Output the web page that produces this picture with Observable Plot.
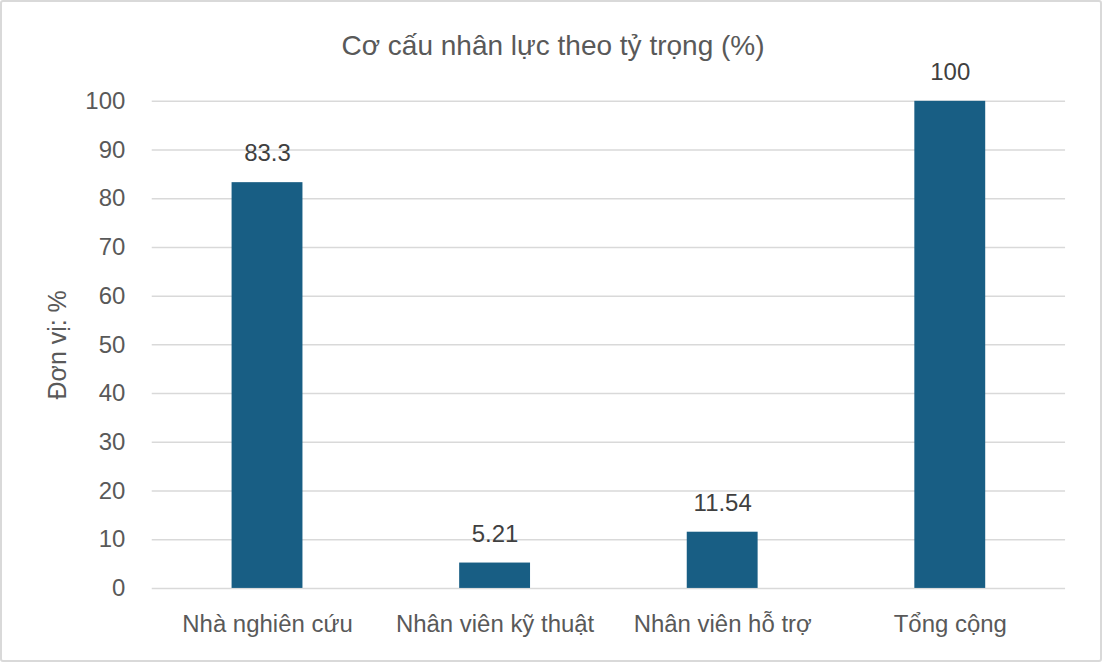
<!DOCTYPE html>
<html>
<head>
<meta charset="utf-8">
<script src="https://cdn.jsdelivr.net/npm/d3@7"></script>
<script src="https://cdn.jsdelivr.net/npm/@observablehq/plot@0.6"></script>
<style>
  html, body { margin: 0; padding: 0; background: #fff; }
  #wrap { position: relative; width: 1102px; height: 662px; box-sizing: border-box; border: 2px solid #d9d9d9; border-radius: 3px; overflow: hidden; font-family: "Liberation Sans", Arial, sans-serif; }
  #title { position: absolute; left: 0; width: 1102px; top: 29px; text-align: center; font-size: 28px; color: #595959; line-height: 30px; }
  #chart { position: absolute; left: -2px; top: -2px; }
</style>
</head>
<body>
<div id="wrap">
  <div id="title">Cơ cấu nhân lực theo tỷ trọng (%)</div>
  <div id="chart"></div>
</div>
<script>
const categories = ["Nhà nghiên cứu", "Nhân viên kỹ thuật", "Nhân viên hỗ trợ", "Tổng cộng"];
const values = [83.3, 5.21, 11.54, 100];
const valueLabels = ["83.3", "5.21", "11.54", "100"];
const yTicks = [0, 10, 20, 30, 40, 50, 60, 70, 80, 90, 100];
const yLabel = "Đơn vị: %";

const data = categories.map((c, i) => ({ category: c, value: values[i], label: valueLabels[i] }));

const textColor = "#595959";
const barColor = "#185E84";

const plot = Plot.plot({
  width: 1102,
  height: 662,
  marginLeft: 152,
  marginRight: 35,
  marginTop: 101,
  marginBottom: 73,
  style: { fontFamily: "'Liberation Sans', Arial, sans-serif", color: textColor, background: "transparent" },
  x: { domain: categories, paddingInner: 0.6875, paddingOuter: 0.34375, label: null },
  y: { domain: [0, 100], ticks: yTicks, label: null },
  marks: [
    Plot.gridY(yTicks, { stroke: "#d9d9d9", strokeOpacity: 1, strokeWidth: 1.5 }),
    Plot.axisY(yTicks, { tickSize: 0, tickPadding: 27, fontSize: 24, fill: textColor, label: null }),
    Plot.axisX({ tickSize: 0, tickPadding: 27, fontSize: 24, fill: textColor, label: null }),
    Plot.barY(data, { x: "category", y: "value", fill: barColor }),
    Plot.text(data, { x: "category", y: "value", text: "label", dy: -29, fontSize: 24, fill: "#404040", lineAnchor: "middle" }),
    Plot.text([yLabel], { frameAnchor: "left", dx: -94, rotate: -90, fontSize: 25, fill: textColor, textAnchor: "middle", lineAnchor: "middle" })
  ]
});
document.getElementById("chart").appendChild(plot);
</script>
</body>
</html>
